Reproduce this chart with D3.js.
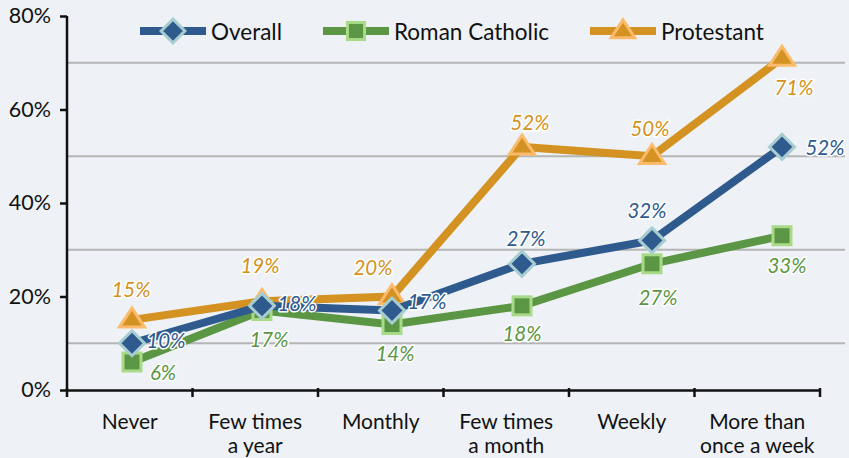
<!DOCTYPE html>
<html>
<head>
<meta charset="utf-8">
<script src="https://cdn.jsdelivr.net/npm/d3@7"></script>
<style>
  html, body { margin: 0; padding: 0; background: #eef2f6; }
  svg { display: block; }
  .axis-text { font-family: "Lato", "Open Sans", sans-serif; font-size: 21.5px; fill: #111; }
  .cat { font-size: 21px; }
  .val { font-family: "Lato", "Noto Sans", sans-serif; font-size: 20.5px; font-style: italic;
         paint-order: stroke; stroke: #fff; stroke-width: 3px; stroke-linejoin: round; }
</style>
</head>
<body>
<svg id="chart" width="849" height="458"></svg>
<script>
// Attendance categories (two-line tick labels)
const categories = ["Never", "Few times a year", "Monthly", "Few times a month", "Weekly", "More than once a week"];
const categoryLines = [["Never"], ["Few times", "a year"], ["Monthly"], ["Few times", "a month"], ["Weekly"], ["More than", "once a week"]];

// Percentages by series
const overall = [10, 18, 17, 27, 32, 52];
const romanCatholic = [6, 17, 14, 18, 27, 33];
const protestant = [15, 19, 20, 52, 50, 71];

const yTicks = [0, 20, 40, 60, 80];
const gridValues = [10, 30, 50, 70];

// Series styling and label placement (offsets from each point)
const series = [
  { name: "Protestant", values: protestant, color: "#d39222", edge: "#fbbb6b", shape: "triangle",
    off: [[-1, -31], [-2, -36], [-19, -30], [8, -25], [-2, -28], [12, 29]] },
  { name: "Roman Catholic", values: romanCatholic, color: "#5b9645", edge: "#a9da88", shape: "square",
    off: [[31, 10], [7, 28], [3, 28], [0, 27], [6, 33], [5, 29]] },
  { name: "Overall", values: overall, color: "#2e5a8e", edge: "#a7cdd1", shape: "diamond",
    off: [[34, -3], [35, -3], [35, -10], [4, -26], [-5, -30], [43, 0]] }
];
const legendOrder = ["Overall", "Roman Catholic", "Protestant"];
const legendX = [140, 323, 590];

const svg = d3.select("#chart");
const x0 = 67, x1 = 820, yTop = 16, yBottom = 390;

const xBand = d3.scaleBand().domain(categories).range([x0, x1]);
const xPoint = d3.scalePoint().domain(categories).range([132, 782]);
const y = d3.scaleLinear().domain([0, 80]).range([yBottom, yTop]);

// Gridlines
svg.append("g").selectAll("line").data(gridValues).join("line")
  .attr("x1", x0).attr("x2", 845)
  .attr("y1", d => y(d)).attr("y2", d => y(d))
  .attr("stroke", "#b5b5b5").attr("stroke-width", 2);

// Y axis
const yAxis = svg.append("g").attr("transform", `translate(${x0},0)`)
  .call(d3.axisLeft(y).tickValues(yTicks).tickFormat(d => d + "%").tickSize(7).tickPadding(9));
yAxis.select(".domain").attr("stroke", "#111").attr("stroke-width", 2.5).attr("d", `M0,${yTop}V${yBottom}`);
yAxis.selectAll(".tick line").attr("stroke", "#111").attr("stroke-width", 2.5);
yAxis.selectAll(".tick text").attr("class", "axis-text").attr("font-family", null).attr("font-size", null);

// X axis
const xAxis = svg.append("g").attr("transform", `translate(0,${yBottom})`)
  .call(d3.axisBottom(xBand).tickValues([]).tickSizeOuter(0));
xAxis.select(".domain").attr("stroke", "#111").attr("stroke-width", 2.5);
const xTickPos = categories.map(c => xBand(c)).concat([x1]);
xAxis.selectAll("line.tk").data(xTickPos).join("line").attr("class", "tk")
  .attr("x1", d => d).attr("x2", d => d).attr("y1", -2).attr("y2", 7)
  .attr("stroke", "#111").attr("stroke-width", 2.5);
const xl = xAxis.selectAll("text.cat").data(categories).join("text").attr("class", "axis-text cat")
  .attr("text-anchor", "middle")
  .attr("transform", d => `translate(${xBand(d) + xBand.bandwidth() / 2},0)`);
xl.each(function(d, i) {
  d3.select(this).selectAll("tspan").data(categoryLines[i]).join("tspan")
    .attr("x", 0).attr("y", (t, j) => 39 + j * 24).text(t => t);
});

// Marker shapes
function marker(sel, shape, color, edge, scale) {
  const k = scale || 1;
  if (shape === "diamond") {
    const r = 12.5 * k;
    sel.append("path").attr("d", `M0,${-r}L${r},0L0,${r}L${-r},0Z`);
  } else if (shape === "square") {
    const s = 9 * k;
    sel.append("rect").attr("x", -s).attr("y", -s).attr("width", 2 * s).attr("height", 2 * s);
  } else {
    const w = 12.5 * k, h = 19 * k;
    sel.append("path").attr("d", `M0,${-h * 0.62}L${w},${h * 0.38}L${-w},${h * 0.38}Z`);
  }
  sel.selectAll("path,rect").attr("fill", color).attr("stroke", edge).attr("stroke-width", 3).attr("stroke-linejoin", "miter");
}

// Lines and markers
const line = d3.line().x((d, i) => xPoint(categories[i])).y(d => y(d));
series.forEach(s => {
  const g = svg.append("g");
  g.append("path").datum(s.values).attr("d", line)
    .attr("fill", "none").attr("stroke", s.color).attr("stroke-width", 8).attr("stroke-linejoin", "miter");
  s.values.forEach((v, i) => {
    const m = g.append("g").attr("transform", `translate(${xPoint(categories[i])},${y(v)})`);
    marker(m, s.shape, s.color, s.edge);
  });
});

// Value labels
series.forEach(s => {
  svg.append("g").selectAll("text").data(s.values).join("text").attr("class", "val")
    .attr("fill", s.color).attr("text-anchor", "middle").attr("dominant-baseline", "central")
    .attr("x", (v, i) => xPoint(categories[i]) + s.off[i][0])
    .attr("y", (v, i) => y(v) + s.off[i][1])
    .text(v => v + "%");
});

// Legend
legendOrder.forEach((name, i) => {
  const s = series.find(d => d.name === name);
  const g = svg.append("g").attr("transform", `translate(${legendX[i]},31)`);
  g.append("line").attr("x1", 0).attr("x2", 66).attr("stroke", s.color).attr("stroke-width", 8);
  const m = g.append("g").attr("transform", "translate(33,0)");
  marker(m, s.shape, s.color, s.edge, 0.95);
  g.append("text").attr("class", "axis-text").attr("x", 71).attr("y", 0)
    .attr("dominant-baseline", "central").style("font-size", "22.5px").text(name);
});
</script>
</body>
</html>
